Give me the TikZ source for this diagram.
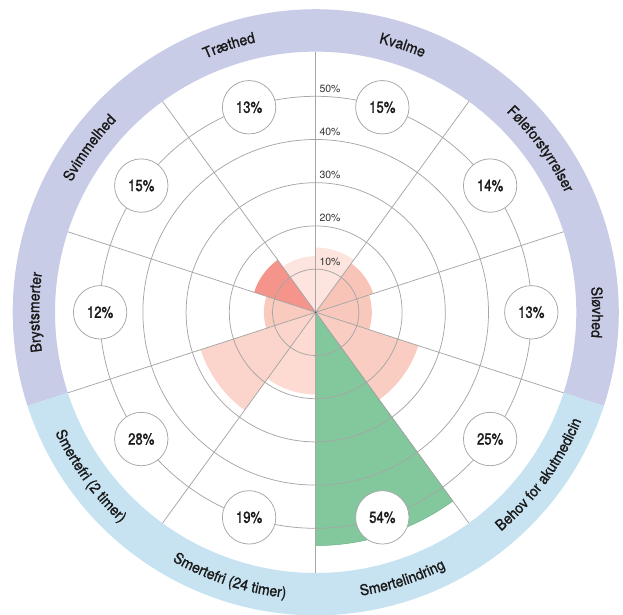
\documentclass[tikz,border=0pt]{standalone}
\usepackage{fontspec}
\setmainfont{TeX Gyre Heros}
\newfontfamily\catfont{TeX Gyre Heros}[FakeStretch=0.93,FakeBold=1.2]
\newfontfamily\bubfont{TeX Gyre Heros}[FakeStretch=0.82,FakeBold=1.5]
\usetikzlibrary{decorations.text}
\definecolor{gridc}{HTML}{A6A6A6}
\definecolor{ringtop}{HTML}{C9CCE6}
\definecolor{ringbot}{HTML}{C7E3F1}
\definecolor{wA}{HTML}{FDE4DE}
\definecolor{wB}{HTML}{F9C4B8}
\definecolor{wC}{HTML}{F9C8BC}
\definecolor{wD}{HTML}{F9CDC2}
\definecolor{wG}{HTML}{82C89C}
\definecolor{wGe}{HTML}{6AB486}
\definecolor{wE}{HTML}{FDDBD2}
\definecolor{wF}{HTML}{FBD5CB}
\definecolor{wH}{HTML}{F9CBBF}
\definecolor{wR}{HTML}{F4948A}
\definecolor{txt}{HTML}{1A1A1A}
\tikzset{
  gridline/.style={draw=gridc, line width=0.75pt},
  bubble/.style={circle, draw=gridc, line width=0.75pt, fill=white, minimum size=53.4pt, inner sep=0pt, font=\bubfont\fontsize{16}{18}\selectfont, text=txt},
  axislbl/.style={font=\fontsize{10.5}{12}\selectfont, text=black!80, inner sep=0pt},
}
\newcommand\cwlabel[2]{%
  \path[decorate, decoration={text along path, text align=center, text color=txt,
    text={|\catfont\fontsize{15}{18}\selectfont|#2}}]
    (#1+40:276.5) arc[start angle=#1+40, end angle=#1-40, radius=276.5];}
\newcommand\ccwlabel[2]{%
  \path[decorate, decoration={text along path, text align=center, text color=txt,
    text={|\catfont\fontsize{15}{18}\selectfont|#2}}]
    (#1-40:287) arc[start angle=#1-40, end angle=#1+40, radius=287];}
\begin{document}
\begin{tikzpicture}[x=1pt,y=1pt]
\useasboundingbox (-315.7,-301.7) rectangle (307.3,312.3);
\coordinate (c) at (0,0);
% outer ring
\fill[ringtop] (-18:303) arc[start angle=-18, end angle=198, radius=303]
  -- (198:260.6) arc[start angle=198, end angle=-18, radius=260.6] -- cycle;
\fill[ringbot] (198:303) arc[start angle=198, end angle=342, radius=303]
  -- (342:260.6) arc[start angle=342, end angle=198, radius=260.6] -- cycle;
% wedges
\foreach \a/\v/\col in {108/13/wA, 72/15/wA, 36/14/wB, 0/13/wC, -36/25/wD,
  -108/19/wE, -144/28/wF, 180/12/wH, 144/15/wR}{
  \fill[\col] (c) -- (\a-18:4.32*\v) arc[start angle=\a-18, end angle=\a+18, radius=4.32*\v] -- cycle;
}
\fill[wG, draw=wGe, line width=0.5pt] (c) -- (-90:233.3) arc[start angle=-90, end angle=-54, radius=233.3] -- cycle;
% grid
\foreach \k in {1,...,5}{
  \draw[gridline] (c) circle[radius=43.2*\k];
}
\foreach \a in {90,126,162,198,234,270,306,342,378,414}{
  \draw[gridline] (c) -- (\a:260.6);
}
\fill[black!70] (c) circle[radius=0.9];
% axis labels
\foreach \k in {1,...,5}{
  \node[axislbl, anchor=base west] (ax\k) at (3.6, 43.2*\k+4) {\k0\%};
}
% bubbles
\node[bubble] (b1) at (108:215.6) {13\%};
\node[bubble] (b2) at (72:215.6) {15\%};
\node[bubble] (b3) at (36:215.6) {14\%};
\node[bubble] (b4) at (0:215.6) {13\%};
\node[bubble] (b5) at (-36:215.6) {25\%};
\node[bubble] (b6) at (-72:215.6) {54\%};
\node[bubble] (b7) at (-108:215.6) {19\%};
\node[bubble] (b8) at (-144:215.6) {28\%};
\node[bubble] (b9) at (180:215.6) {12\%};
\node[bubble] (b10) at (144:215.6) {15\%};
% category labels
\cwlabel{108}{Træthed}
\cwlabel{72}{Kvalme}
\cwlabel{36}{Føleforstyrrelser}
\cwlabel{0}{Sløvhed}
\cwlabel{180}{Brystsmerter}
\cwlabel{144}{Svimmelhed}
\ccwlabel{-36}{Behov for akutmedicin}
\ccwlabel{-72}{Smertelindring}
\ccwlabel{-108}{Smertefri (24 timer)}
\ccwlabel{-144}{Smertefri (2 timer)}
\end{tikzpicture}
\end{document}
